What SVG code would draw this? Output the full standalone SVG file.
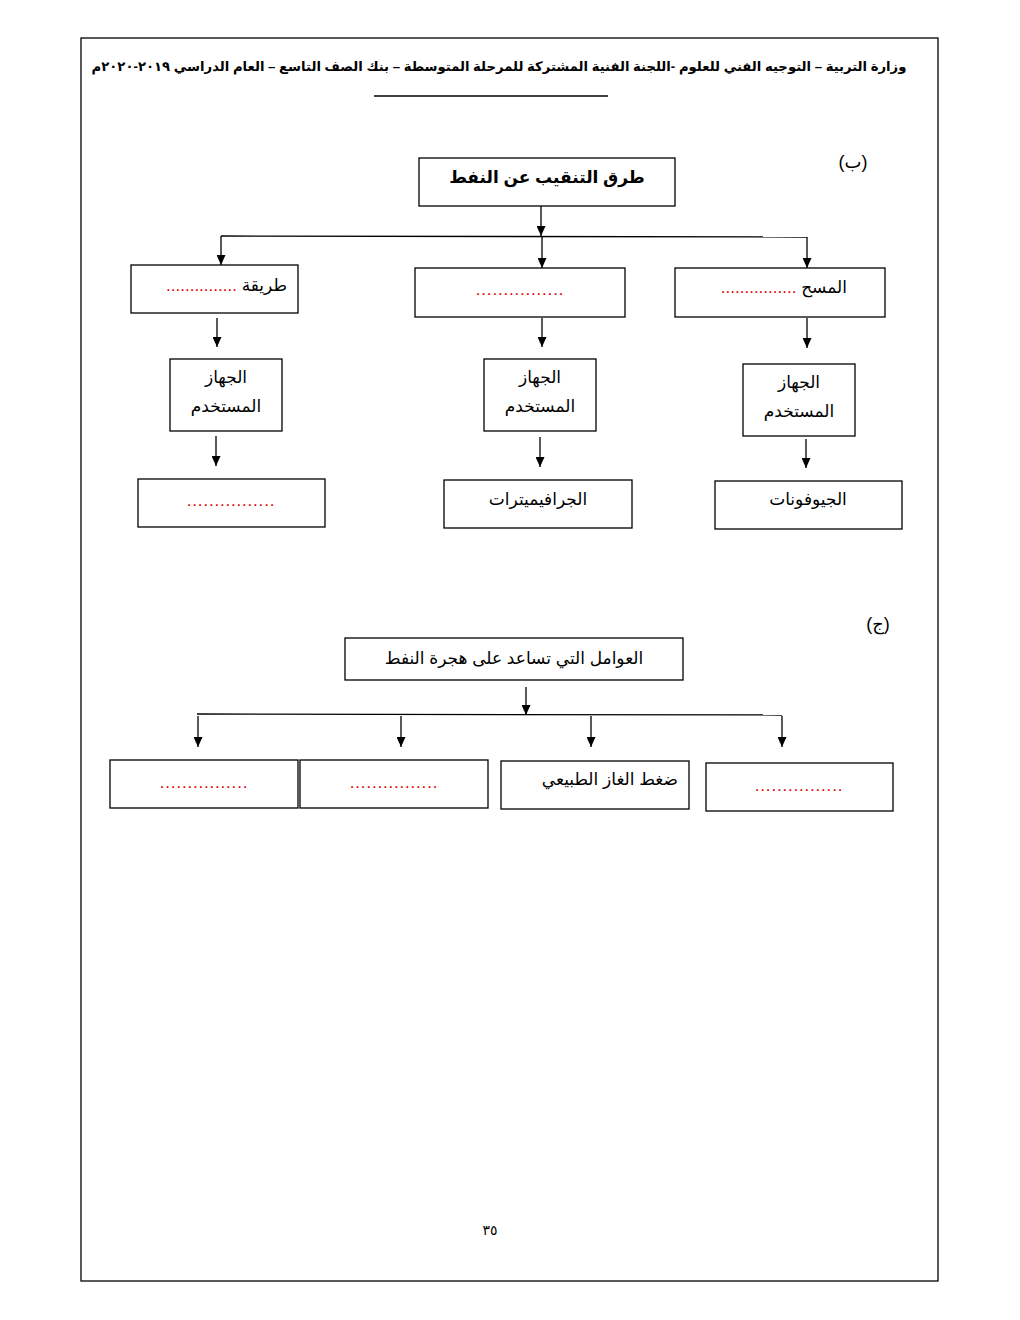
<svg xmlns="http://www.w3.org/2000/svg" width="1020" height="1320" viewBox="0 0 1020 1320">
<style>
text{font-family:"Liberation Sans","DejaVu Sans",sans-serif;fill:#000}
.b{fill:#fff;stroke:#000;stroke-width:1.3}
.t{font-size:17px;text-anchor:middle}
.r{fill:#e00000;letter-spacing:0.8px}
.c{stroke:#000;stroke-width:1.3;fill:none}
</style>
<defs>
<marker id="ah" viewBox="0 0 10 10" refX="10" refY="5" markerWidth="10" markerHeight="9" markerUnits="userSpaceOnUse" orient="auto" preserveAspectRatio="none">
<path d="M0,0 L10,5 L0,10 z" fill="#000"/>
</marker>
</defs>
<rect x="0" y="0" width="1020" height="1320" fill="#fff"/>
<rect x="81" y="38" width="857" height="1243" fill="none" stroke="#000" stroke-width="1.3"/>
<text x="499" y="71" font-size="13.2" font-weight="bold" text-anchor="middle" direction="rtl">وزارة التربية – التوجيه الفني للعلوم -اللجنة الفنية المشتركة للمرحلة المتوسطة – بنك الصف التاسع – العام الدراسي ٢٠١٩-٢٠٢٠م</text>
<line x1="374" y1="96" x2="608" y2="96" stroke="#000" stroke-width="1.5"/>
<text x="853" y="168" font-size="18" text-anchor="middle">(ب)</text>
<text x="878" y="630" font-size="18" text-anchor="middle">(ج)</text>

<g id="connectors">
<line class="c" x1="541" y1="206" x2="541" y2="236" marker-end="url(#ah)"/>
<polyline class="c" points="221,236 807,237"/>
<line class="c" x1="221" y1="236" x2="221" y2="265" marker-end="url(#ah)"/>
<line class="c" x1="542" y1="236" x2="542" y2="268" marker-end="url(#ah)"/>
<line class="c" x1="807" y1="237" x2="807" y2="268" marker-end="url(#ah)"/>
<line class="c" x1="217" y1="318" x2="217" y2="347" marker-end="url(#ah)"/>
<line class="c" x1="542" y1="318" x2="542" y2="347" marker-end="url(#ah)"/>
<line class="c" x1="807" y1="318" x2="807" y2="348" marker-end="url(#ah)"/>
<line class="c" x1="216" y1="436" x2="216" y2="466" marker-end="url(#ah)"/>
<line class="c" x1="540" y1="437" x2="540" y2="467" marker-end="url(#ah)"/>
<line class="c" x1="806" y1="439" x2="806" y2="468" marker-end="url(#ah)"/>
<line class="c" x1="526" y1="687" x2="526" y2="715" marker-end="url(#ah)"/>
<line class="c" x1="197" y1="714" x2="782" y2="715"/>
<line class="c" x1="198" y1="716" x2="198" y2="747" marker-end="url(#ah)"/>
<line class="c" x1="401" y1="716" x2="401" y2="747" marker-end="url(#ah)"/>
<line class="c" x1="591" y1="716" x2="591" y2="747" marker-end="url(#ah)"/>
<line class="c" x1="782" y1="716" x2="782" y2="747" marker-end="url(#ah)"/>
</g>

<g id="root-b"><rect class="b" x="419" y="158" width="256" height="48"/><text class="t" x="547" y="183" font-weight="bold" font-size="15.5">طرق التنقيب عن النفط</text></g>

<g id="m-left"><rect class="b" x="131" y="265" width="167" height="48"/><text x="287" y="291" font-size="17" text-anchor="start" direction="rtl">طريقة <tspan class="r">...............</tspan></text></g>
<g id="m-mid"><rect class="b" x="415" y="268" width="210" height="49"/><text class="t r" x="520" y="295">................</text></g>
<g id="m-right"><rect class="b" x="675" y="268" width="210" height="49"/><text x="847" y="293" font-size="17" text-anchor="start" direction="rtl">المسح <tspan class="r">................</tspan></text></g>

<g id="d-left"><rect class="b" x="170" y="359" width="112" height="72"/><text class="t" x="226" y="383">الجهاز</text><text class="t" x="226" y="412">المستخدم</text></g>
<g id="d-mid"><rect class="b" x="484" y="359" width="112" height="72"/><text class="t" x="540" y="383">الجهاز</text><text class="t" x="540" y="412">المستخدم</text></g>
<g id="d-right"><rect class="b" x="743" y="364" width="112" height="72"/><text class="t" x="799" y="388">الجهاز</text><text class="t" x="799" y="417">المستخدم</text></g>

<g id="e-left"><rect class="b" x="138" y="479" width="187" height="48"/><text class="t r" x="231" y="506">................</text></g>
<g id="e-mid"><rect class="b" x="444" y="480" width="188" height="48"/><text class="t" x="538" y="505">الجرافيميترات</text></g>
<g id="e-right"><rect class="b" x="715" y="481" width="187" height="48"/><text class="t" x="808" y="505">الجيوفونات</text></g>

<g id="root-c"><rect class="b" x="345" y="638" width="338" height="42"/><text class="t" x="514" y="664">العوامل التي تساعد على هجرة النفط</text></g>

<g id="f1"><rect class="b" x="110" y="760" width="188" height="48"/><text class="t r" x="204" y="788">................</text></g>
<g id="f2"><rect class="b" x="300" y="760" width="188" height="48"/><text class="t r" x="394" y="788">................</text></g>
<g id="f3"><rect class="b" x="501" y="761" width="188" height="48"/><text x="678" y="785" font-size="17" text-anchor="start" direction="rtl">ضغط الغاز الطبيعي</text></g>
<g id="f4"><rect class="b" x="706" y="763" width="187" height="48"/><text class="t r" x="799" y="791">................</text></g>

<text x="490" y="1235" font-size="14" text-anchor="middle">٣٥</text>
</svg>
